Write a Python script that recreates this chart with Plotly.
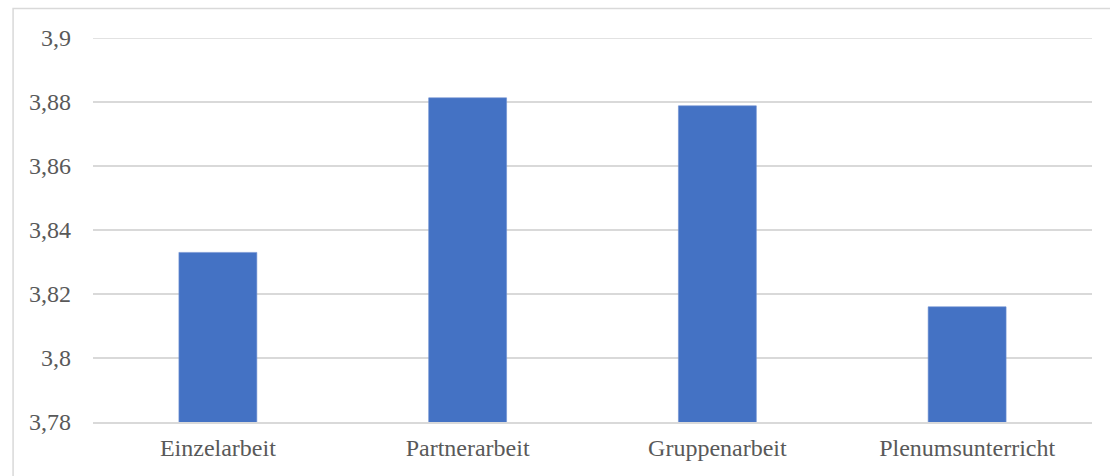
import plotly.graph_objects as go

# Mittelwerte je Sozialform
categories = ["Einzelarbeit", "Partnerarbeit", "Gruppenarbeit", "Plenumsunterricht"]
values = [3.833, 3.8813, 3.8788, 3.816]

# y-Achse mit deutschem Dezimalkomma
tick_values = [3.78, 3.80, 3.82, 3.84, 3.86, 3.88, 3.90]
tick_labels = ["3,78", "3,8", "3,82", "3,84", "3,86", "3,88", "3,9"]

FONT = "Liberation Serif"
GRID = "#d9d9d9"
TEXT = "#595959"

fig = go.Figure(
    go.Bar(
        x=categories,
        y=values,
        marker=dict(color="#4472C4", line=dict(color="#6f90d2", width=0.6)),
        hoverinfo="x+y",
    )
)

fig.update_layout(
    width=1110,
    height=476,
    margin=dict(l=93, r=18, t=38, b=54),
    paper_bgcolor="white",
    plot_bgcolor="white",
    bargap=0.688,
    showlegend=False,
    font=dict(family=FONT, size=24, color=TEXT),
    xaxis=dict(
        showgrid=False,
        showline=True,
        linecolor=GRID,
        linewidth=1.5,
        ticks="",
        tickfont=dict(family=FONT, size=24, color=TEXT),
        ticklabelstandoff=3,
    ),
    yaxis=dict(
        range=[3.78, 3.90],
        tickvals=tick_values,
        ticktext=tick_labels,
        showgrid=True,
        gridcolor=GRID,
        gridwidth=1.5,
        zeroline=False,
        showline=False,
        ticks="",
        ticklabelstandoff=21,
        tickfont=dict(family=FONT, size=24, color=TEXT),
    ),
    shapes=[
        # Rahmen um das Diagramm
        dict(
            type="rect",
            xref="paper",
            yref="paper",
            x0=-0.08,
            x1=1.05,
            y0=-0.3,
            y1=1.077,
            line=dict(color=GRID, width=1.5),
            fillcolor="rgba(0,0,0,0)",
            layer="below",
        ),
        # oberste Gitterlinie am Achsenende
        dict(
            type="line",
            xref="paper",
            yref="y",
            x0=0,
            x1=1,
            y0=tick_values[-1],
            y1=tick_values[-1],
            line=dict(color=GRID, width=1.5),
            layer="below",
        ),
    ],
)

fig.write_html("out.html")
